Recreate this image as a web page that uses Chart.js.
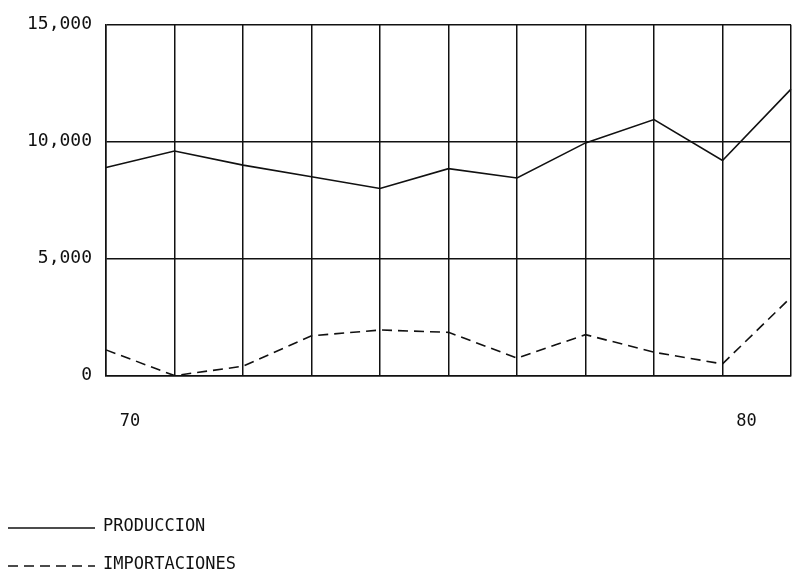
<!DOCTYPE html>
<html>
<head>
<meta charset="utf-8">
<script src="https://cdn.jsdelivr.net/npm/chart.js@4.4.1/dist/chart.umd.min.js"></script>
<style>
  html, body { margin: 0; padding: 0; background: #fff; }
  #wrap { width: 797px; height: 583px; }
</style>
</head>
<body>
<div id="wrap"><canvas id="chart" width="797" height="583"></canvas></div>
<script>
// datos (11 puntos)
const xTickLabels = ['70', '', '', '', '', '', '', '', '', '80', ''];
const produccion = [8900, 9600, 9000, 8500, 8000, 8850, 8450, 9950, 10950, 9200, 12250];
const importaciones = [1100, 0, 400, 1700, 1950, 1850, 750, 1750, 1000, 500, 3350];
const yTicks = [0, 5000, 10000, 15000];

const ink = '#111';
const font = 'DejaVu Sans Mono';

// leyenda dibujada a mano, una linea por serie
const legendPlugin = {
  id: 'stackLegend',
  afterDraw(chart) {
    const ctx = chart.ctx;
    ctx.save();
    chart.data.datasets.forEach((ds, i) => {
      const y = 528 + i * 38;
      ctx.beginPath();
      ctx.setLineDash(ds.borderDash || []);
      ctx.lineWidth = 1.5;
      ctx.strokeStyle = ink;
      ctx.moveTo(8, y);
      ctx.lineTo(95, y);
      ctx.stroke();
      ctx.setLineDash([]);
      ctx.fillStyle = ink;
      ctx.font = '17px ' + font;
      ctx.textBaseline = 'middle';
      ctx.fillText(ds.label, 103, y - 1);
    });
    ctx.restore();
  }
};

new Chart(document.getElementById('chart'), {
  type: 'line',
  data: {
    labels: xTickLabels,
    datasets: [
      {
        label: 'PRODUCCION',
        data: produccion,
        borderColor: ink,
        borderWidth: 1.6,
        pointRadius: 0,
        tension: 0
      },
      {
        label: 'IMPORTACIONES',
        data: importaciones,
        borderColor: ink,
        borderWidth: 1.6,
        borderDash: [10, 6],
        pointRadius: 0,
        tension: 0
      }
    ]
  },
  options: {
    responsive: false,
    animation: false,
    layout: { padding: { left: 13, right: 6, top: 24, bottom: 115 } },
    plugins: {
      legend: { display: false },
      tooltip: { enabled: false }
    },
    scales: {
      x: {
        grid: { color: ink, lineWidth: 1.5, drawTicks: false },
        border: { color: ink, width: 1.5 },
        ticks: {
          color: ink,
          font: { family: font, size: 17 },
          padding: 36,
          labelOffset: 24,
          maxRotation: 0,
          autoSkip: false
        },
        // el padding de 36 no debe empujar los lados
        afterFit: axis => { axis.paddingLeft = 0; axis.paddingRight = 0; }
      },
      y: {
        min: 0,
        max: 15000,
        afterBuildTicks: axis => { axis.ticks = yTicks.map(v => ({ value: v })); },
        grid: { color: ink, lineWidth: 1.5, drawTicks: false },
        border: { color: ink, width: 1.5 },
        ticks: {
          color: ink,
          font: { family: font, size: 18 },
          padding: 14,
          callback: v => v.toLocaleString('en-US')
        }
      }
    }
  },
  plugins: [legendPlugin]
});
</script>
</body>
</html>
